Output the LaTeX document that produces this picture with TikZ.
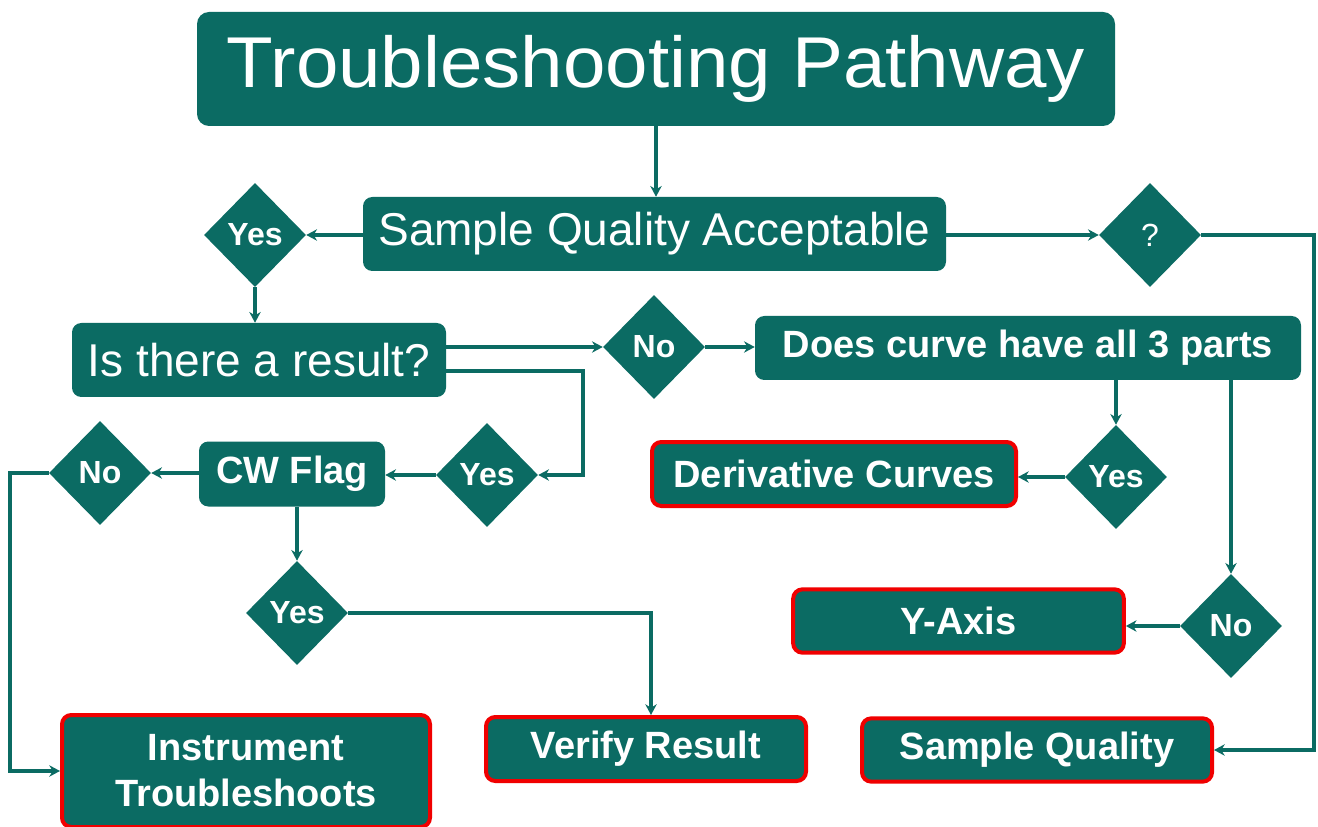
\documentclass[tikz,border=0pt]{standalone}
\usepackage{fontspec}
\setmainfont{Liberation Sans}
\usetikzlibrary{arrows.meta,shapes.geometric}
\definecolor{pathteal}{RGB}{11,107,99}
\definecolor{alertred}{RGB}{240,0,0}
\tikzset{
  box/.style={rectangle, rounded corners=7pt, fill=pathteal, text=white,
    inner sep=0pt, align=center},
  redbox/.style={box, draw=alertred, line width=3pt},
  choice/.style={diamond, fill=pathteal, text=white, inner sep=0pt,
    minimum width=76.5pt, minimum height=78pt,
    font=\fontsize{24}{26}\selectfont\bfseries},
  link/.style={draw=pathteal, line width=3pt,
    -{Stealth[length=8pt,width=8.5pt,inset=2.5pt]}},
  bigfont/.style={font=\fontsize{34.5}{38}\selectfont},
  boldfont/.style={font=\fontsize{28.5}{34.5}\selectfont\bfseries}
}
\begin{document}
\begin{tikzpicture}[x=0.75pt,y=-0.75pt]
\useasboundingbox (0,0) rectangle (1318,827);

% main heading
\node[box, rounded corners=9pt, minimum width=688.5pt, minimum height=85.5pt,
  font=\fontsize{54}{58}\selectfont] (title) at (656,69)
  {\scalebox{1.06}[1]{Troubleshooting Pathway}};

% question boxes
\node[box, bigfont, minimum width=437.25pt, minimum height=55.5pt] (sqa) at (654.5,234) {Sample Quality Acceptable};
\node[box, bigfont, minimum width=280.5pt, minimum height=55.5pt] (result) at (259,360) {Is there a result?};
\node[box, boldfont, minimum width=409.5pt, minimum height=48pt] (curve) at (1028,348) {Does curve have all 3 parts};
\node[box, boldfont, minimum width=139.5pt, minimum height=48.75pt] (cw) at (292,474) {CW Flag};

% outcome boxes
\node[redbox, boldfont, minimum width=273pt, minimum height=48pt] (deriv) at (834,474) {Derivative Curves};
\node[redbox, boldfont, minimum width=248pt, minimum height=47.5pt] (yaxis) at (958.5,621) {Y-Axis};
\node[redbox, boldfont, minimum width=276pt, minimum height=84pt] (inst) at (246,771) {Instrument\\Troubleshoots};
\node[redbox, boldfont, minimum width=240pt, minimum height=48pt] (verify) at (646,749) {Verify Result};
\node[redbox, boldfont, minimum width=262.5pt, minimum height=47.5pt] (sampq) at (1037,750) {Sample Quality};

% decisions
\node[choice] (yesA) at (255,235) {Yes};
\node[choice] (noA) at (654,347) {No};
\node[choice] (yesB) at (487,475) {Yes};
\node[choice] (noB) at (100,473) {No};
\node[choice] (yesC) at (297,613) {Yes};
\node[choice, font=\fontsize{24}{26}\selectfont] (qm) at (1150,235) {?};
\node[choice] (yesD) at (1116,477) {Yes};
\node[choice] (noC) at (1231,626) {No};

% routing columns
\coordinate (colL) at (10,0);
\coordinate (colM) at (583,0);
\coordinate (colV) at (651,0);
\coordinate (colR) at (1314,0);

% connectors
\draw[link] (title.south) -- (title.south |- sqa.north);
\draw[link] (sqa.west |- yesA.east) -- (yesA.east);
\draw[link] (yesA.south) -- (yesA.south |- result.north);
\draw[link] (noA.west -| result.east) -- (noA.west);
\draw[link] ([yshift=-8.25pt]result.east) -- ([yshift=-8.25pt]result.east -| colM)
  -- (colM |- yesB.east) -- (yesB.east);
\draw[link] (yesB.west) -- (yesB.west -| cw.east);
\draw[link] (cw.west |- noB.east) -- (noB.east);
\draw[link] (noB.west) -- (noB.west -| colL) |- (inst.west);
\draw[link] (yesC.north |- cw.south) -- (yesC.north);
\draw[link] (yesC.east) -- (yesC.east -| colV) -- (colV |- verify.north);
\draw[link] (noA.east) -- (noA.east -| curve.west);
\draw[link] (yesD.north |- curve.south) -- (yesD.north);
\draw[link] (yesD.west) -- (yesD.west -| deriv.east);
\draw[link] (noC.north |- curve.south) -- (noC.north);
\draw[link] (noC.west) -- (noC.west -| yaxis.east);
\draw[link] (qm.west -| sqa.east) -- (qm.west);
\draw[link] (qm.east) -- (qm.east -| colR) -- (colR |- sampq.east) -- (sampq.east);
\end{tikzpicture}
\end{document}
